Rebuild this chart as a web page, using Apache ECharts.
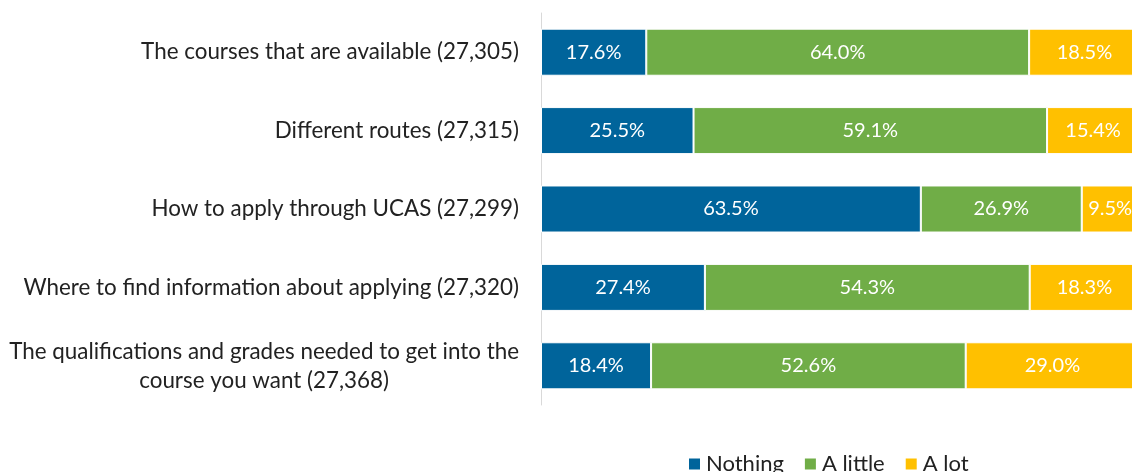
<!DOCTYPE html>
<html>
<head>
<meta charset="utf-8">
<script src="https://cdn.jsdelivr.net/npm/echarts@6/dist/echarts.min.js"></script>
<style>
  html, body { margin: 0; padding: 0; background: #fff; }
  #chart { width: 1132px; height: 472px; }
</style>
</head>
<body>
<div id="chart"></div>
<script>
// categories, top to bottom
const categories = [
  'The courses that are available (27,305)',
  'Different routes (27,315)',
  'How to apply through UCAS (27,299)',
  'Where to find information about applying (27,320)',
  'The qualifications and grades needed to get into the\ncourse you want (27,368)'
];
const nothing = [17.6, 25.5, 63.5, 27.4, 18.4];
const aLittle = [64.0, 59.1, 26.9, 54.3, 52.6];
const aLot = [18.5, 15.4, 9.5, 18.3, 29.0];

const chart = echarts.init(document.getElementById('chart'));
const font = 'Lato, "Open Sans", sans-serif';

const makeSeries = (name, data, color) => ({
  name: name,
  type: 'bar',
  stack: 'total',
  barWidth: '60%',
  clip: false,
  data: data,
  itemStyle: { color: color, borderColor: '#fff', borderWidth: 1 },
  label: {
    show: true,
    position: 'inside',
    color: '#fff',
    fontFamily: font,
    fontSize: 20,
    formatter: (p) => p.value.toFixed(1) + '%'
  },
  emphasis: { disabled: true }
});

chart.setOption({
  animation: false,
  // the plot runs past the right edge of the picture, as in the original
  grid: { left: 541, top: 13, bottom: 67, right: 0 },
  legend: {
    left: 682,
    top: 448,
    icon: 'rect',
    itemWidth: 13,
    itemHeight: 13,
    itemGap: 19,
    textStyle: { fontFamily: font, fontSize: 22, color: '#222' },
    data: ['Nothing', 'A little', 'A lot']
  },
  xAxis: {
    type: 'value',
    min: 0,
    max: 98.8,
    show: false
  },
  yAxis: {
    type: 'category',
    inverse: true,
    data: categories,
    axisLine: { show: true, lineStyle: { color: '#d9d9d9', width: 1 } },
    axisTick: { show: false },
    axisLabel: {
      margin: 22,
      fontFamily: font,
      fontSize: 22.4,
      color: '#222',
      lineHeight: 29,
      formatter: (v) => v.indexOf('\n') >= 0
        ? v.split('\n').map(s => '{c|' + s + '}').join('\n')
        : v,
      rich: {
        c: { align: 'center', fontFamily: font, fontSize: 22.4, color: '#222', lineHeight: 29 }
      }
    }
  },
  series: [
    makeSeries('Nothing', nothing, '#00649b'),
    makeSeries('A little', aLittle, '#70ad47'),
    makeSeries('A lot', aLot, '#ffc000')
  ]
});
</script>
</body>
</html>
